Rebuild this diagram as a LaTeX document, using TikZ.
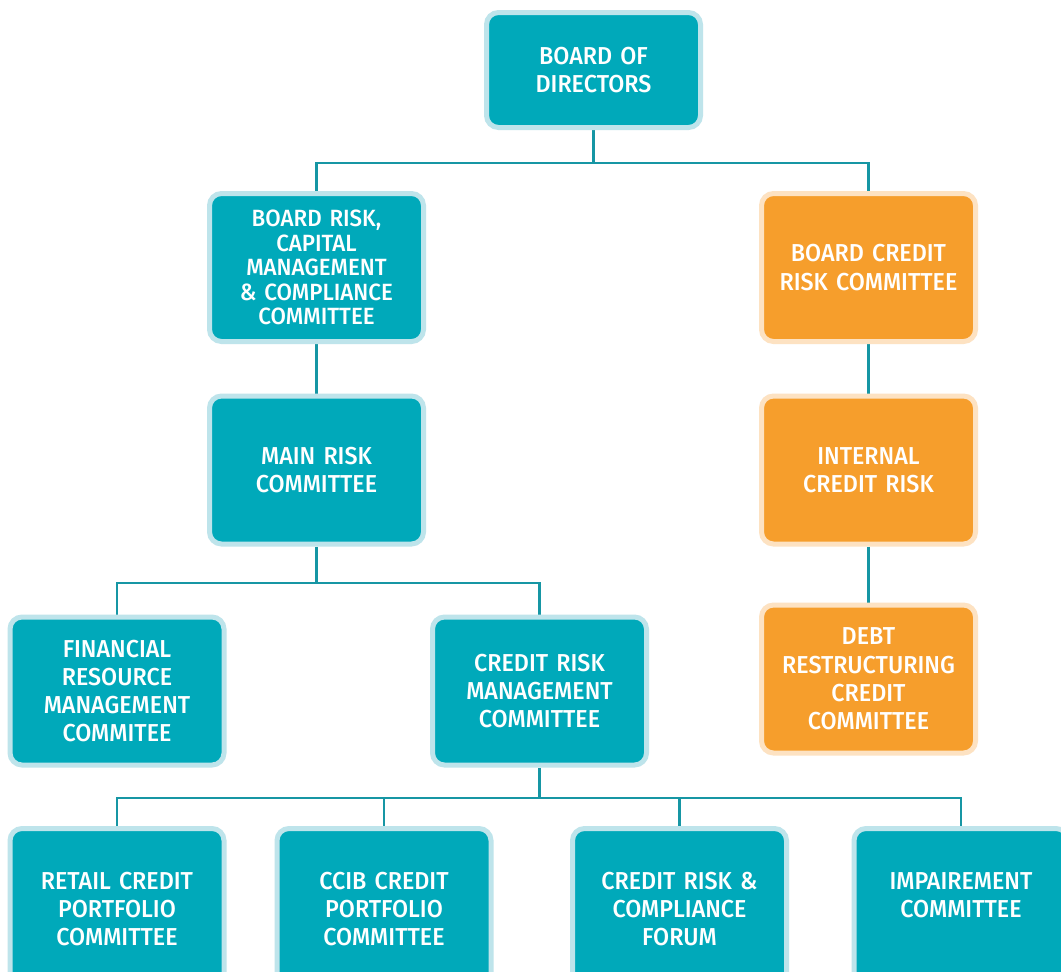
\documentclass[tikz,border=0pt]{standalone}
\usepackage{fontspec}
\setmainfont{Fira Sans}[UprightFont=* Medium, FakeStretch=0.95, WordSpace=0.45]
\usetikzlibrary{backgrounds}
\definecolor{tealfill}{RGB}{0,169,186}
\definecolor{tealborder}{RGB}{190,228,235}
\definecolor{orangefill}{RGB}{246,158,44}
\definecolor{orangeborder}{RGB}{253,226,194}
\definecolor{linecol}{RGB}{22,150,164}
\begin{document}
\begin{tikzpicture}[x=1pt,y=-1pt,
  box/.style={rounded corners=12pt, line width=5pt, minimum width=214pt, minimum height=148pt,
    inner sep=0pt, text width=205pt, align=center, text=white,
    font=\fontsize{24.5}{28.3}\selectfont},
  tbox/.style={box, fill=tealfill, draw=tealborder},
  obox/.style={box, fill=orangefill, draw=orangeborder},
  link/.style={draw=linecol, line width=2.4pt}]
\useasboundingbox (0,0) rectangle (1061,972);
\clip (0,0) rectangle (1061,972);
\node[tbox, minimum height=115pt] (bod) at (593.5,70) {BOARD OF\\DIRECTORS};
\node[tbox, font=\fontsize{23.5}{24.6}\selectfont] (brc) at (316.5,267.5) {BOARD RISK,\\CAPITAL\\MANAGEMENT\\\& COMPLIANCE\\COMMITTEE};
\node[obox] (bcrc) at (868.5,267.5) {BOARD CREDIT\\RISK COMMITTEE};
\node[tbox] (mrc) at (316.5,470) {MAIN RISK\\COMMITTEE};
\node[obox] (icr) at (868.5,470) {INTERNAL\\CREDIT RISK};
\node[obox] (drc) at (868.5,679) {DEBT\\RESTRUCTURING\\CREDIT\\COMMITTEE};
\node[tbox] (frm) at (117,691) {FINANCIAL\\RESOURCE\\MANAGEMENT\\COMMITEE};
\node[tbox] (crm) at (539.5,691) {CREDIT RISK\\MANAGEMENT\\COMMITTEE};
\node[tbox, minimum height=161pt] (rcp) at (117,909) {RETAIL CREDIT\\PORTFOLIO\\COMMITTEE};
\node[tbox, minimum height=161pt] (ccib) at (384,909) {CCIB CREDIT\\PORTFOLIO\\COMMITTEE};
\node[tbox, minimum height=161pt] (crcf) at (679.5,909) {CREDIT RISK \&\\COMPLIANCE\\FORUM};
\node[tbox, minimum height=161pt] (imp) at (961,909) {IMPAIREMENT\\COMMITTEE\\\mbox{}};
\coordinate (j1) at (593.5,163);
\coordinate (j2) at (316.5,583);
\coordinate (j3) at (539.5,798);
\begin{scope}[on background layer]
\fill[white] (0,0) rectangle (1061,972);
\draw[link] (bod.south) -- (j1);
\draw[link] (brc.north) |- (j1) -| (bcrc.north);
\draw[link] (brc.south) -- (mrc.north);
\draw[link] (bcrc.south) -- (icr.north);
\draw[link] (icr.south) -- (drc.north);
\draw[link] (mrc.south) -- (j2);
\draw[link] (frm.north) |- (j2) -| (crm.north);
\draw[link] (crm.south) -- (j3);
\draw[link] (rcp.north) |- (j3) -| (imp.north);
\draw[link] (ccib.north) -- (ccib.north |- j3);
\draw[link] (crcf.north) -- (crcf.north |- j3);
\end{scope}
\end{tikzpicture}
\end{document}
